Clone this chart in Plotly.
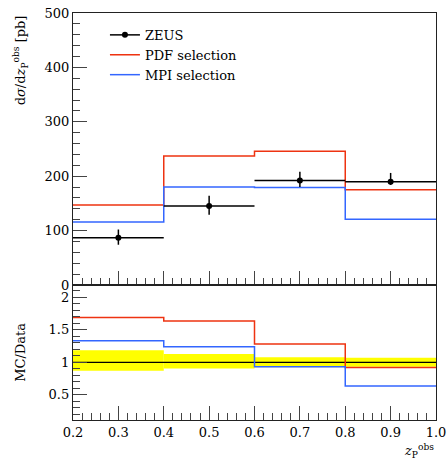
import plotly.graph_objects as go

# ---- data ----
bin_edges = [0.2, 0.4, 0.6, 0.8, 1.0]
x_centers = [0.3, 0.5, 0.7, 0.9]
x_halfwidth = [0.1, 0.1, 0.1, 0.1]
zeus = [87, 145, 192, 190]
zeus_err_up = [15, 19, 16, 16]
zeus_err_dn = [13, 16, 12, 6]
pdf_sel = [147, 237, 246, 175]
mpi_sel = [116, 180, 179, 121]
band_lo = [0.87, 0.905, 0.923, 0.93]
band_hi = [1.185, 1.128, 1.077, 1.07]

RED = "#EE3311"
BLUE = "#3366FF"
FONT = "DejaVu Serif"

def steps(vals):
    return list(vals) + [vals[-1]]

pdf_ratio = [m / d for m, d in zip(pdf_sel, zeus)]
mpi_ratio = [m / d for m, d in zip(mpi_sel, zeus)]
data_ratio = [1.0 for _ in zeus]

fig = go.Figure()

# legend dummy for ZEUS
fig.add_trace(go.Scatter(x=[None], y=[None], mode="lines+markers", name="ZEUS",
                         line=dict(color="black", width=1.5),
                         marker=dict(color="black", size=6), xaxis="x", yaxis="y"))
fig.add_trace(go.Scatter(x=bin_edges, y=steps(pdf_sel), mode="lines", line_shape="hv",
                         name="PDF selection", line=dict(color=RED, width=1.5),
                         xaxis="x", yaxis="y"))
fig.add_trace(go.Scatter(x=bin_edges, y=steps(mpi_sel), mode="lines", line_shape="hv",
                         name="MPI selection", line=dict(color=BLUE, width=1.5),
                         xaxis="x", yaxis="y"))
fig.add_trace(go.Scatter(x=x_centers, y=zeus, mode="markers", showlegend=False,
                         marker=dict(color="black", size=6),
                         error_x=dict(type="data", array=x_halfwidth, symmetric=True,
                                      color="black", thickness=1.5, width=0),
                         error_y=dict(type="data", array=zeus_err_up, arrayminus=zeus_err_dn,
                                      symmetric=False, color="black", thickness=1.5, width=0),
                         xaxis="x", yaxis="y"))

# ratio panel
fig.add_trace(go.Bar(x=x_centers, y=[h - l for h, l in zip(band_hi, band_lo)], base=band_lo,
                     width=0.2, marker=dict(color="#FFFF00", line=dict(width=0)),
                     showlegend=False, xaxis="x2", yaxis="y2"))
fig.add_trace(go.Scatter(x=bin_edges, y=steps(data_ratio), mode="lines", line_shape="hv",
                         line=dict(color="black", width=1.3), showlegend=False,
                         xaxis="x2", yaxis="y2"))
fig.add_trace(go.Scatter(x=bin_edges, y=steps(pdf_ratio), mode="lines", line_shape="hv",
                         line=dict(color=RED, width=1.5), showlegend=False,
                         xaxis="x2", yaxis="y2"))
fig.add_trace(go.Scatter(x=bin_edges, y=steps(mpi_ratio), mode="lines", line_shape="hv",
                         line=dict(color=BLUE, width=1.5), showlegend=False,
                         xaxis="x2", yaxis="y2"))

split = (420 - 285) / 407.0

axis_common = dict(showline=True, linecolor="#222222", linewidth=1.3, mirror=True,
                   ticks="inside", tickcolor="#444444", tickwidth=1, showgrid=False,
                   zeroline=False, automargin=False,
                   tickfont=dict(family=FONT, size=13, color="black"))

fig.update_layout(
    width=447, height=460,
    margin=dict(l=73, r=11, t=13, b=40, autoexpand=False),
    paper_bgcolor="white", plot_bgcolor="white",
    font=dict(family=FONT, size=13, color="black"),
    barmode="overlay",
    xaxis=dict(domain=[0, 1], range=[0.2, 1.0], anchor="y", matches="x2",
               showticklabels=False, dtick=0.1, tick0=0.2, ticklen=14,
               minor=dict(dtick=0.02, ticklen=7, ticks="inside", tickcolor="#444444"),
               **axis_common),
    yaxis=dict(domain=[split, 1], range=[0, 500], anchor="x", dtick=100, ticklen=14,
               minor=dict(dtick=20, ticklen=7, ticks="inside", tickcolor="#444444"),
               **axis_common),
    xaxis2=dict(domain=[0, 1], range=[0.2, 1.0], anchor="y2", dtick=0.1, tick0=0.2,
                tickformat=".1f", ticklen=14,
                minor=dict(dtick=0.02, ticklen=7, ticks="inside", tickcolor="#444444"),
                **axis_common),
    yaxis2=dict(domain=[0, split], range=[0.112, 2.19], anchor="x2",
                tickvals=[0.5, 1, 1.5, 2], ticktext=["0.5", "1", "1.5", "2"], ticklen=14,
                minor=dict(dtick=0.1, tick0=0, ticklen=7, ticks="inside", tickcolor="#444444"),
                **axis_common),
    legend=dict(x=0.088, y=0.983, xanchor="left", yanchor="top",
                bgcolor="rgba(0,0,0,0)", font=dict(family=FONT, size=13),
                tracegroupgap=0, itemwidth=30),
    showlegend=True,
)

fig.add_annotation(text="d<i>σ</i>/d<i>z</i><sub>P</sub><sup>obs</sup> [pb]",
                   xref="paper", yref="paper", x=-0.145, y=1.0, xanchor="center", yanchor="top",
                   textangle=-90, showarrow=False, font=dict(family=FONT, size=13))
fig.add_annotation(text="MC/Data", xref="paper", yref="paper", x=-0.145, y=split / 2,
                   xanchor="center", yanchor="middle", textangle=-90, showarrow=False,
                   font=dict(family=FONT, size=13))
fig.add_annotation(text="<i>z</i><sub>P</sub><sup>obs</sup>", xref="paper", yref="paper",
                   x=1.0, y=-0.075, xanchor="right", yanchor="middle", showarrow=False,
                   font=dict(family=FONT, size=13))

fig.write_html("out.html", config={"displayModeBar": False},
               post_script="document.body.style.margin='0px';")
